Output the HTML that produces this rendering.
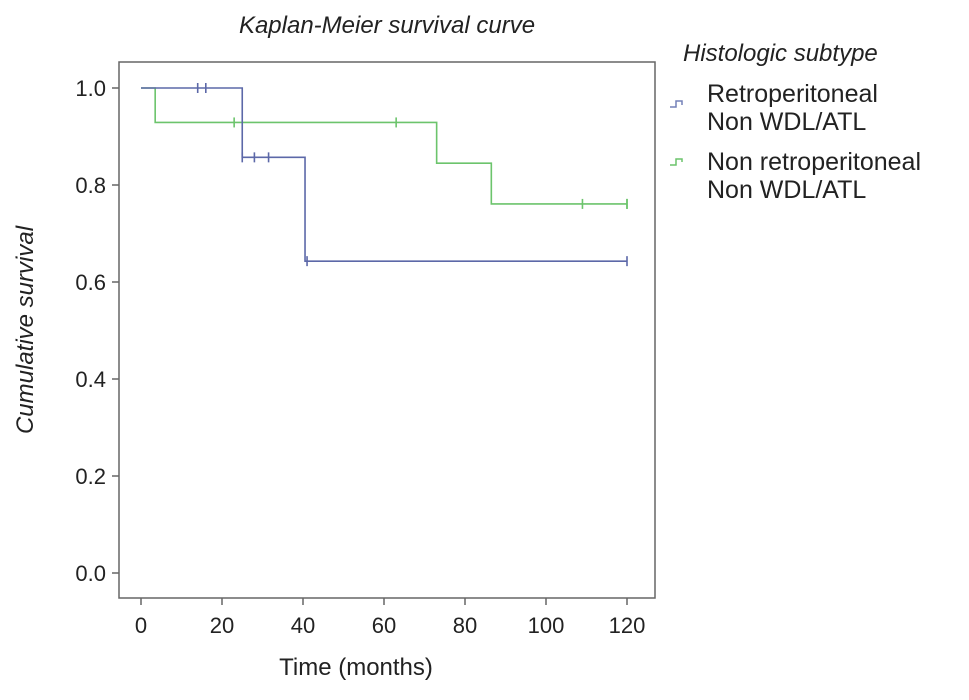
<!DOCTYPE html>
<html><head><meta charset="utf-8"><style>
body{margin:0;background:#fff;width:969px;height:695px;overflow:hidden}
svg text{font-family:"Liberation Sans",Arial,sans-serif;fill:#222}
</style></head><body>
<svg width="969" height="695">
<text x="387" y="33" font-size="24" font-style="italic" text-anchor="middle">Kaplan-Meier survival curve</text>
<rect x="119" y="62" width="536" height="536" fill="none" stroke="#666" stroke-width="1.5"/>
<g id="axes"></g>
<g id="series"></g>
<text x="356" y="675" font-size="24" text-anchor="middle">Time (months)</text>
<text transform="translate(33,330) rotate(-90)" font-size="24" font-style="italic" text-anchor="middle">Cumulative survival</text>
<text x="683" y="61" font-size="24" font-style="italic">Histologic subtype</text>
<g>
<path d="M670,107 h6 v-6 h6 v4" fill="none" stroke="#7480b8" stroke-width="1.5"/>
<text x="707" y="102" font-size="25">Retroperitoneal</text>
<text x="707" y="130" font-size="25">Non WDL/ATL</text></g>
<g>
<path d="M670,165 h6 v-6 h6 v3" fill="none" stroke="#6cc46c" stroke-width="1.5"/>
<text x="707" y="170" font-size="25">Non retroperitoneal</text>
<text x="707" y="198" font-size="25">Non WDL/ATL</text></g>
</svg>
<script>
const xTicks=[0,20,40,60,80,100,120];
const yTicks=[0,0.2,0.4,0.6,0.8,1.0];
const blueTimes=[0,25,40.5,120];
const blueSurv=[1.0,0.857,0.643,0.643];
const blueCensor=[14,16,25,28,31.5,41,120];
const greenTimes=[0,3.5,73,86.5,120];
const greenSurv=[1.0,0.929,0.845,0.761,0.761];
const greenCensor=[23,63,109,120,120];
const X=t=>141+t*(627-141)/120;
const Y=s=>573-s*485;
const NS="http://www.w3.org/2000/svg";
const ax=document.getElementById('axes'),se=document.getElementById('series');
function mk(p,tag,a){const e=document.createElementNS(NS,tag);for(const k in a)e.setAttribute(k,a[k]);p.appendChild(e);return e;}
xTicks.forEach(v=>{
 const l=mk(ax,'line',{x1:X(v),x2:X(v),y1:598,y2:605,stroke:'#666','stroke-width':1.5});
 
 
 const t=mk(ax,'text',{x:X(v),y:633,'font-size':22,'text-anchor':'middle'});t.textContent=v;
 
 
});
yTicks.forEach(v=>{
 const l=mk(ax,'line',{x1:112,x2:119,y1:Y(v),y2:Y(v),stroke:'#666','stroke-width':1.5});
 
 
 const t=mk(ax,'text',{x:106,y:Y(v)+8,'font-size':22,'text-anchor':'end'});t.textContent=v.toFixed(1);
 
 
});
function survAt(ts,ss,t){let s=ss[0];for(let i=0;i<ts.length;i++)if(ts[i]<t)s=ss[i];return s;}
function draw(ts,ss,cens,col,name){
 let d='M'+X(ts[0])+','+Y(ss[0]);
 for(let i=1;i<ts.length;i++){d+=' H'+X(ts[i])+' V'+Y(ss[i]);}
 const p=mk(se,'path',{d:d,fill:'none',stroke:col,'stroke-width':1.6});
 
 
 cens.forEach(c=>{
  const y=Y(survAt(ts,ss,c+0.01));
  const m=mk(se,'line',{x1:X(c),x2:X(c),y1:y-5,y2:y+5,stroke:col,'stroke-width':1.6});
  
  
 });
}
draw(greenTimes,greenSurv,greenCensor,'#6cc46c','non-retroperitoneal');
draw(blueTimes,blueSurv,blueCensor,'#5c68a8','retroperitoneal');
</script>
</body></html>
